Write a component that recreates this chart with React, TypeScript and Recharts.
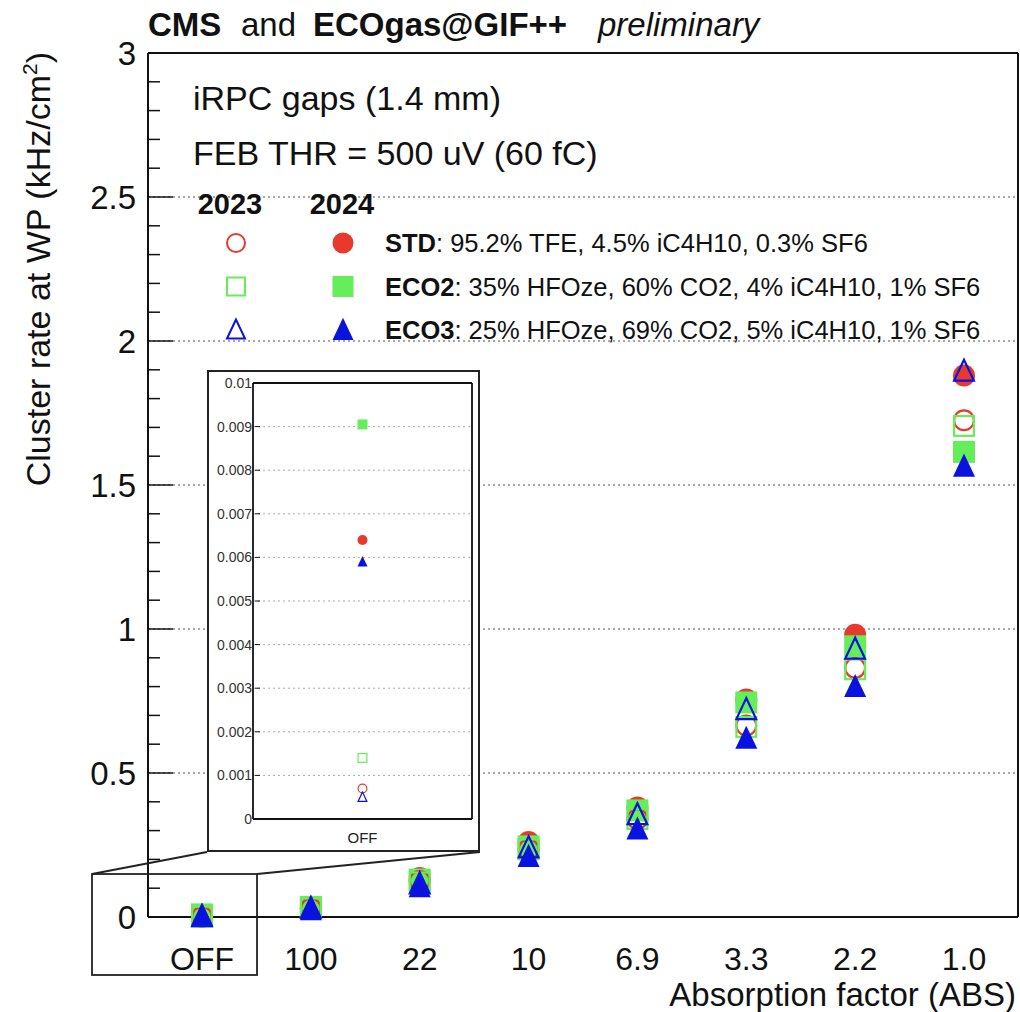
import React from 'react'
import { ComposedChart, Line, XAxis, YAxis, ReferenceLine } from 'recharts'

// absorption factor categories
const categories = ['OFF', '100', '22', '10', '6.9', '3.3', '2.2', '1.0']

// cluster rate at WP (kHz/cm2)
const std2023 = [0.0007, 0.03, 0.125, 0.235, 0.34, 0.665, 0.865, 1.725]
const std2024 = [0.0064, 0.03, 0.135, 0.26, 0.38, 0.755, 0.98, 1.88]
const eco2_2023 = [0.0014, 0.03, 0.12, 0.235, 0.34, 0.66, 0.86, 1.705]
const eco2_2024 = [0.00905, 0.035, 0.13, 0.245, 0.37, 0.745, 0.94, 1.615]
const eco3_2023 = [0.0005, 0.03, 0.115, 0.24, 0.355, 0.72, 0.93, 1.895]
const eco3_2024 = [0.0059, 0.025, 0.105, 0.21, 0.305, 0.62, 0.8, 1.565]

const yTicks = Array.from({ length: 31 }, (_, i) => i / 10)
const yLabels = [0, 0.5, 1, 1.5, 2, 2.5, 3]
const gridLines = [0.5, 1, 1.5, 2, 2.5]
const insetTicks = [0, 0.001, 0.002, 0.003, 0.004, 0.005, 0.006, 0.007, 0.008, 0.009, 0.01]
const insetLabels = ['0', '0.001', '0.002', '0.003', '0.004', '0.005', '0.006', '0.007', '0.008', '0.009', '0.01']

const RED = '#e8392c'
const GREEN = '#66ee5a'
const BLUE = '#0a12e0'
const FONT = '"Liberation Sans", Arial, Helvetica, sans-serif'

type Shape = 'circle' | 'square' | 'triangle'

const series = [
  { key: 'std24', values: std2024, shape: 'circle' as Shape, color: RED, filled: true },
  { key: 'eco2_24', values: eco2_2024, shape: 'square' as Shape, color: GREEN, filled: true },
  { key: 'std23', values: std2023, shape: 'circle' as Shape, color: RED, filled: false },
  { key: 'eco2_23', values: eco2_2023, shape: 'square' as Shape, color: GREEN, filled: false },
  { key: 'eco3_23', values: eco3_2023, shape: 'triangle' as Shape, color: BLUE, filled: false },
  { key: 'eco3_24', values: eco3_2024, shape: 'triangle' as Shape, color: BLUE, filled: true },
]

const data = categories.map((cat, i) => {
  const row: Record<string, string | number> = { cat }
  series.forEach(s => { row[s.key] = s.values[i] })
  return row
})
const insetData = [data[0]]

function Marker({ cx, cy, shape, color, filled, size, sw }: {
  cx: number; cy: number; shape: Shape; color: string; filled: boolean; size: number; sw: number
}) {
  const fill = filled ? color : 'none'
  const stroke = filled ? 'none' : color
  const r = size / 2
  if (shape === 'circle') {
    return <circle cx={cx} cy={cy} r={filled ? r : r - sw / 2} fill={fill} stroke={stroke} strokeWidth={sw} />
  }
  if (shape === 'square') {
    const h = filled ? r : r - sw / 2
    return <rect x={cx - h} y={cy - h} width={h * 2} height={h * 2} fill={fill} stroke={stroke} strokeWidth={sw} />
  }
  const h = filled ? size * 1.05 : size * 1.05 - sw
  const w = filled ? size : size - sw
  const pts = `${cx},${cy - h * 0.55} ${cx - w / 2},${cy + h * 0.45} ${cx + w / 2},${cy + h * 0.45}`
  return <polygon points={pts} fill={fill} stroke={stroke} strokeWidth={sw} strokeLinejoin="miter" />
}

const makeDot = (s: typeof series[number], size: number, sw: number) => (p: any) => {
  if (p.cx == null || p.cy == null) return <g key={`${s.key}-${p.index}`} />
  return (
    <g key={`${s.key}-${p.index}`}>
      <Marker cx={p.cx} cy={p.cy} shape={s.shape} color={s.color} filled={s.filled} size={size} sw={sw} />
    </g>
  )
}

// main plot frame: x 148..1018, y 53..917
const MainYTick = (p: any) => {
  const v = p.payload.value
  const major = yLabels.some(m => Math.abs(m - v) < 1e-6)
  const x = 148
  return (
    <g>
      <line x1={x} x2={x + (major ? 25 : 12)} y1={p.y} y2={p.y} stroke="#111" strokeWidth={1.5} />
      {major && (
        <text x={x - 12} y={p.y + 12} textAnchor="end" fontSize={33} fontFamily={FONT} fill="#111">
          {String(v)}
        </text>
      )}
    </g>
  )
}

const MainXTick = (p: any) => (
  <text x={p.x} y={917 + 53} textAnchor="middle" fontSize={32} fontFamily={FONT} fill="#111">
    {p.payload.value}
  </text>
)

const InsetYTick = (p: any) => {
  const i = insetTicks.findIndex(t => Math.abs(t - p.payload.value) < 1e-9)
  const x = 48
  return (
    <g>
      <line x1={x} x2={x + 5} y1={p.y} y2={p.y} stroke="#111" strokeWidth={1} />
      <text x={x - 3} y={p.y + 5} textAnchor="end" fontSize={14} fontFamily={FONT} fill="#333">
        {i >= 0 ? insetLabels[i] : ''}
      </text>
    </g>
  )
}

const InsetXTick = (p: any) => (
  <text x={p.x} y={451 + 22} textAnchor="middle" fontSize={15} fontFamily={FONT} fill="#222">
    {p.payload.value}
  </text>
)

const legendRows = [
  { name: 'STD', text: ': 95.2% TFE, 4.5% iC4H10, 0.3% SF6', shape: 'circle' as Shape, color: RED },
  { name: 'ECO2', text: ': 35% HFOze, 60% CO2, 4% iC4H10, 1% SF6', shape: 'square' as Shape, color: GREEN },
  { name: 'ECO3', text: ': 25% HFOze, 69% CO2, 5% iC4H10, 1% SF6', shape: 'triangle' as Shape, color: BLUE },
]

const axisLine = { stroke: '#111', strokeWidth: 2 }
const insetAxisLine = { stroke: '#111', strokeWidth: 1.8 }

export default function App() {
  return (
    <div style={{ position: 'absolute', left: 0, top: 0, width: 1020, height: 1012, background: '#fff', fontFamily: FONT }}>
      <div style={{ position: 'absolute', left: 0, top: 0 }}>
        <ComposedChart width={1020} height={1012} data={data} margin={{ top: 52, right: 1, bottom: 94, left: 147 }}>
          {gridLines.map(g => (
            <ReferenceLine key={g} y={g} stroke="#555" strokeWidth={1.2} strokeDasharray="2 3" />
          ))}
          <XAxis dataKey="cat" type="category" scale="point" padding={{ left: 54, right: 54 }} height={1}
            tickLine={false} axisLine={axisLine} tick={MainXTick} interval={0} />
          <XAxis xAxisId="top" dataKey="cat" orientation="top" height={1} tick={false} tickLine={false}
            axisLine={axisLine} />
          <YAxis type="number" domain={[0, 3]} ticks={yTicks} interval={0} width={1}
            tickLine={false} axisLine={axisLine} tick={MainYTick} />
          <YAxis yAxisId="right" orientation="right" type="number" domain={[0, 3]} width={1} tick={false}
            tickLine={false} axisLine={axisLine} />
          {series.map(s => (
            <Line key={s.key} dataKey={s.key} stroke="none" isAnimationActive={false} activeDot={false}
              legendType="none" dot={makeDot(s, 22, 2.2)} />
          ))}
        </ComposedChart>
      </div>

      <svg width={1020} height={1012} style={{ position: 'absolute', left: 0, top: 0, pointerEvents: 'none' }}>
        <text x={148} y={36} fontSize={33} fontFamily={FONT} fill="#111">
          <tspan x={148} fontWeight="bold">CMS</tspan>
          <tspan x={241}>and</tspan>
          <tspan x={313} fontWeight="bold">ECOgas@GIF++</tspan>
          <tspan x={598} fontStyle="italic">preliminary</tspan>
        </text>

        <text x={193} y={110} fontSize={34} fontFamily={FONT} fill="#111">iRPC gaps (1.4 mm)</text>
        <text x={193} y={165} fontSize={34} fontFamily={FONT} fill="#111">FEB THR = 500 uV (60 fC)</text>

        <text x={230} y={214} textAnchor="middle" fontSize={29} fontWeight="bold" fontFamily={FONT} fill="#111">2023</text>
        <text x={342} y={214} textAnchor="middle" fontSize={29} fontWeight="bold" fontFamily={FONT} fill="#111">2024</text>
        {legendRows.map((r, i) => {
          const y = 243 + i * 43.5
          return (
            <g key={r.name}>
              <Marker cx={236} cy={y} shape={r.shape} color={r.color} filled={false} size={20} sw={2} />
              <Marker cx={343} cy={y} shape={r.shape} color={r.color} filled size={21} sw={2} />
              <text x={385} y={y + 9} fontSize={25.5} fontFamily={FONT} fill="#111">
                <tspan fontWeight="bold">{r.name}</tspan>
                <tspan>{r.text}</tspan>
              </text>
            </g>
          )
        })}

        <text transform="rotate(-90 50 52)" x={50} y={52} textAnchor="end" fontSize={34} fontFamily={FONT} fill="#111">
          Cluster rate at WP (kHz/cm<tspan dy={-13} fontSize={21}>2</tspan><tspan dy={13}>)</tspan>
        </text>
        <text x={1016} y={1006} textAnchor="end" fontSize={33} fontFamily={FONT} fill="#111">Absorption factor (ABS)</text>

        <rect x={92} y={874} width={165} height={101} fill="none" stroke="#222" strokeWidth={1.8} />
        <line x1={92} y1={874} x2={207} y2={852} stroke="#222" strokeWidth={1.8} />
        <line x1={257} y1={874} x2={480} y2={852} stroke="#222" strokeWidth={1.8} />
      </svg>

      <div style={{ position: 'absolute', left: 207, top: 370, width: 273, height: 482, boxSizing: 'border-box',
        border: '2px solid #222', background: '#fff' }}>
        <div style={{ position: 'absolute', left: -2, top: -2 }}>
          <ComposedChart width={273} height={482} data={insetData} margin={{ top: 12, right: 7, bottom: 32, left: 45 }}>
            {insetTicks.slice(1, 10).map(t => (
              <ReferenceLine key={t} y={t} stroke="#aaa" strokeWidth={1} strokeDasharray="2 3" />
            ))}
            <XAxis dataKey="cat" type="category" scale="point" height={1}
              tickLine={false} axisLine={insetAxisLine} tick={InsetXTick} interval={0} />
            <XAxis xAxisId="top" dataKey="cat" orientation="top" height={1} tick={false} tickLine={false}
              axisLine={insetAxisLine} />
            <YAxis type="number" domain={[0, 0.01]} ticks={insetTicks} interval={0} width={1}
              tickLine={false} axisLine={insetAxisLine} tick={InsetYTick} />
            <YAxis yAxisId="right" orientation="right" type="number" domain={[0, 0.01]} width={1} tick={false}
              tickLine={false} axisLine={insetAxisLine} />
            {series.map(s => (
              <Line key={s.key} dataKey={s.key} stroke="none" isAnimationActive={false} activeDot={false}
                legendType="none" dot={makeDot(s, 10, 1.2)} />
            ))}
          </ComposedChart>
        </div>
      </div>
    </div>
  )
}
